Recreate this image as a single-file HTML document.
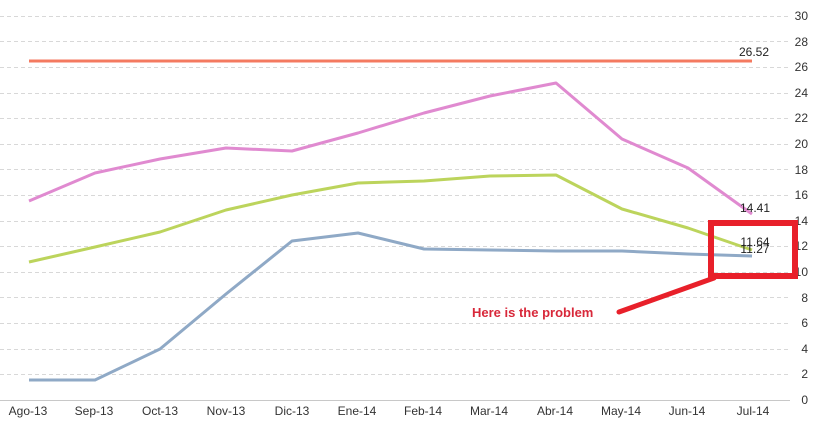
<!DOCTYPE html>
<html><head><style>body{margin:0;background:#fff}svg{display:block}</style></head><body>
<svg width="820" height="428" xmlns="http://www.w3.org/2000/svg" font-family="Liberation Sans, sans-serif">
<g stroke="#d8d8d8" stroke-dasharray="4,3" stroke-width="1">
<line x1="0" x2="790" y1="16.5" y2="16.5"/><line x1="0" x2="790" y1="41.5" y2="41.5"/><line x1="0" x2="790" y1="67.5" y2="67.5"/><line x1="0" x2="790" y1="93.5" y2="93.5"/><line x1="0" x2="790" y1="118.5" y2="118.5"/><line x1="0" x2="790" y1="144.5" y2="144.5"/><line x1="0" x2="790" y1="169.5" y2="169.5"/><line x1="0" x2="790" y1="195.5" y2="195.5"/><line x1="0" x2="790" y1="221.5" y2="221.5"/><line x1="0" x2="790" y1="246.5" y2="246.5"/><line x1="0" x2="790" y1="272.5" y2="272.5"/><line x1="0" x2="790" y1="297.5" y2="297.5"/><line x1="0" x2="790" y1="323.5" y2="323.5"/><line x1="0" x2="790" y1="349.5" y2="349.5"/><line x1="0" x2="790" y1="374.5" y2="374.5"/>
</g>
<line x1="0" x2="790" y1="400.5" y2="400.5" stroke="#c8c8c8"/>
<g font-size="12" fill="#333" text-anchor="end">
<text x="808" y="20">30</text><text x="808" y="46">28</text><text x="808" y="71">26</text><text x="808" y="97">24</text><text x="808" y="122">22</text><text x="808" y="148">20</text><text x="808" y="174">18</text><text x="808" y="199">16</text><text x="808" y="225">14</text><text x="808" y="250">12</text><text x="808" y="276">10</text><text x="808" y="302">8</text><text x="808" y="327">6</text><text x="808" y="353">4</text><text x="808" y="378">2</text><text x="808" y="404">0</text>
</g>
<g font-size="12" fill="#333" text-anchor="middle">
<text x="28" y="415">Ago-13</text><text x="94" y="415">Sep-13</text><text x="160" y="415">Oct-13</text><text x="226" y="415">Nov-13</text><text x="292" y="415">Dic-13</text><text x="357" y="415">Ene-14</text><text x="423" y="415">Feb-14</text><text x="489" y="415">Mar-14</text><text x="555" y="415">Abr-14</text><text x="621" y="415">May-14</text><text x="687" y="415">Jun-14</text><text x="753" y="415">Jul-14</text>
</g>
<g fill="none" stroke-width="3" stroke-linejoin="round">
<polyline stroke="#f47a60" points="29,61 752,61"/>
<polyline stroke="#e08ad0" points="29,201 95,173 160,159 226,148 292,151 358,133 424,113 490,96 556,83 622,139 688,168 752,214"/>
<polyline stroke="#bcd45c" points="29,262 95,247 160,232 226,210 292,195 358,183 424,181 490,176 556,175 622,209 688,228 752,250"/>
<polyline stroke="#8fa9c6" points="29,380 95,380 160,349 226,294 292,241 358,233 424,249 490,250 556,251 622,251 688,254 752,256"/>
</g>
<g font-size="12" fill="#222" text-anchor="middle">
<text x="754" y="56">26.52</text><text x="755" y="212">14.41</text><text x="755" y="246">11.64</text><text x="755" y="253">11.27</text>
</g>
<rect x="711" y="223" width="84" height="53" fill="none" stroke="#e8202a" stroke-width="6"/>
<line x1="619" y1="312" x2="714" y2="278" stroke="#e8202a" stroke-width="5" stroke-linecap="round"/>
<text x="472" y="317" font-size="13" font-weight="bold" fill="#d8283a">Here is the problem</text>
</svg>
</body></html>
